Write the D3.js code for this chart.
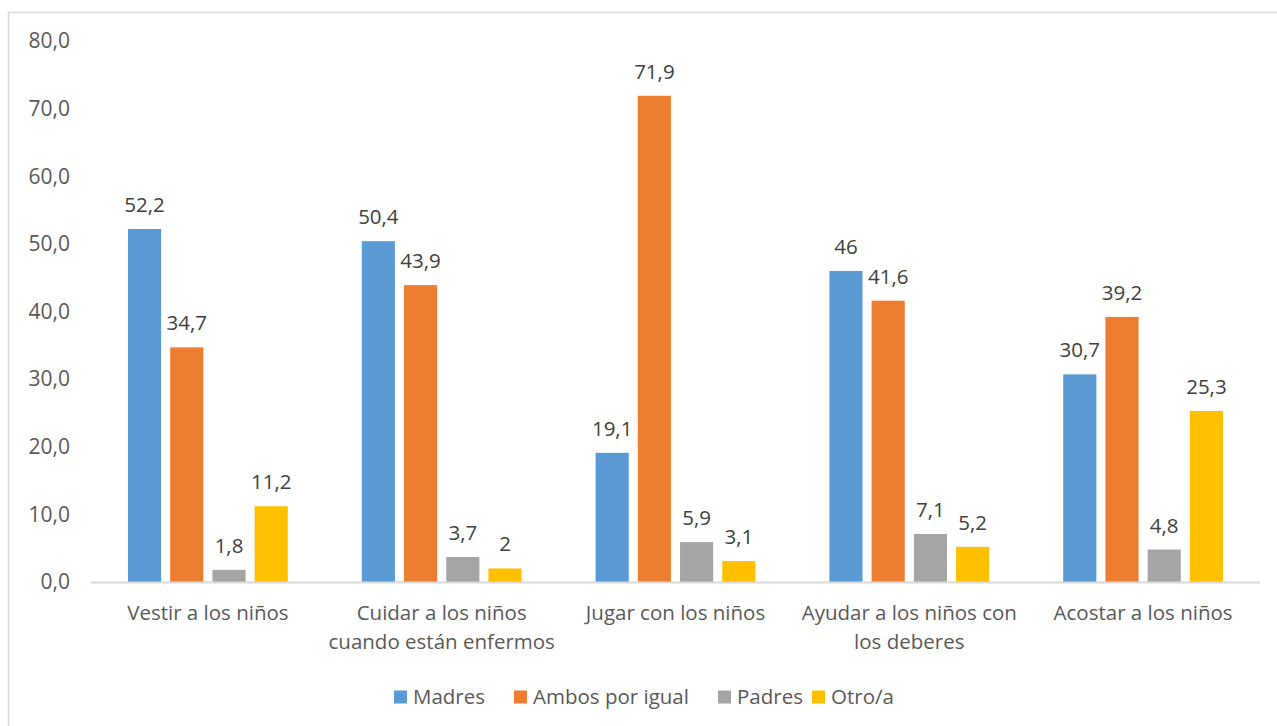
<!DOCTYPE html>
<html><head><meta charset="utf-8">
<script src="https://cdn.jsdelivr.net/npm/d3@7"></script>
<style>body{margin:0;background:#fff}svg{display:block}text{font-family:"Open Sans",sans-serif}</style>
</head><body><svg id="c" width="1277" height="726"></svg>
<script>
const categories = [["Vestir a los niños"],["Cuidar a los niños","cuando están enfermos"],["Jugar con los niños"],["Ayudar a los niños con","los deberes"],["Acostar a los niños"]];
const seriesNames = ["Madres","Ambos por igual","Padres","Otro/a"];
const colors = ["#5b9bd5","#ed7d31","#a5a5a5","#ffc000"];
const madres = [52.2,50.4,19.1,46,30.7];
const ambos = [34.7,43.9,71.9,41.6,39.2];
const padres = [1.8,3.7,5.9,7.1,4.8];
const otro = [11.2,2,3.1,5.2,25.3];
const labelsText = [["52,2","50,4","19,1","46","30,7"],["34,7","43,9","71,9","41,6","39,2"],["1,8","3,7","5,9","7,1","4,8"],["11,2","2","3,1","5,2","25,3"]];
const yTicks = [0,10,20,30,40,50,60,70,80];
const series = [madres,ambos,padres,otro];

const svg = d3.select("#c");
svg.append("rect").attr("x",8.5).attr("y",12.5).attr("width",1300).attr("height",800).attr("fill","#fff").attr("stroke","#d9d9d9").attr("stroke-width",1.5);

const L=91,R=1260,T=41,B=582;
const FS=20.5;
const y = d3.scaleLinear().domain([0,80]).range([B,T]);
const x0 = d3.scaleBand().domain(d3.range(5)).range([L,R]);
const x1 = d3.scaleBand().domain(d3.range(4)).range([37,x0.bandwidth()-37]).paddingInner(0.215);

svg.append("g").selectAll("text").data(yTicks).join("text")
 .attr("x",70).attr("y",d=>y(d)).attr("dy","0.35em").attr("text-anchor","end")
 .attr("font-size",21).attr("fill","#595959").text(d=>d.toFixed(1).replace(".",","));

const g = svg.append("g");
series.forEach((s,si)=>{
  g.append("g").selectAll("rect").data(s).join("rect")
   .attr("x",(d,i)=>x0(i)+x1(si)).attr("width",x1.bandwidth())
   .attr("y",d=>y(d)).attr("height",d=>B-y(d)).attr("fill",colors[si]);
  g.append("g").selectAll("text").data(s).join("text")
   .attr("x",(d,i)=>x0(i)+x1(si)+x1.bandwidth()/2).attr("y",d=>y(d)-17)
   .attr("text-anchor","middle").attr("font-size",FS).attr("fill","#404040")
   .text((d,i)=>labelsText[si][i]);
});
svg.append("line").attr("x1",L).attr("x2",R).attr("y1",B+0.5).attr("y2",B+0.5).attr("stroke","#d9d9d9").attr("stroke-width",2);

svg.append("g").selectAll("text").data(categories).join("text")
 .attr("x",(d,i)=>x0(i)+x0.bandwidth()/2).attr("y",620)
 .attr("text-anchor","middle").attr("font-size",FS).attr("fill","#595959")
 .each(function(d){ const t=d3.select(this); d.forEach((l,k)=>t.append("tspan").attr("x",t.attr("x")).attr("dy",k?29:0).text(l)); });

// legend
const lg = svg.append("g");
const items = lg.selectAll("g").data(seriesNames).join("g");
items.append("rect").attr("width",13).attr("height",13).attr("y",-6.5).attr("fill",(d,i)=>colors[i]);
items.append("text").attr("x",19).attr("dy","0.35em").attr("font-size",FS).attr("fill","#595959").text(d=>d);
const legendX = [394,514,718,812];
items.attr("transform",(d,i)=>`translate(${legendX[i]},697)`);
</script></body></html>
